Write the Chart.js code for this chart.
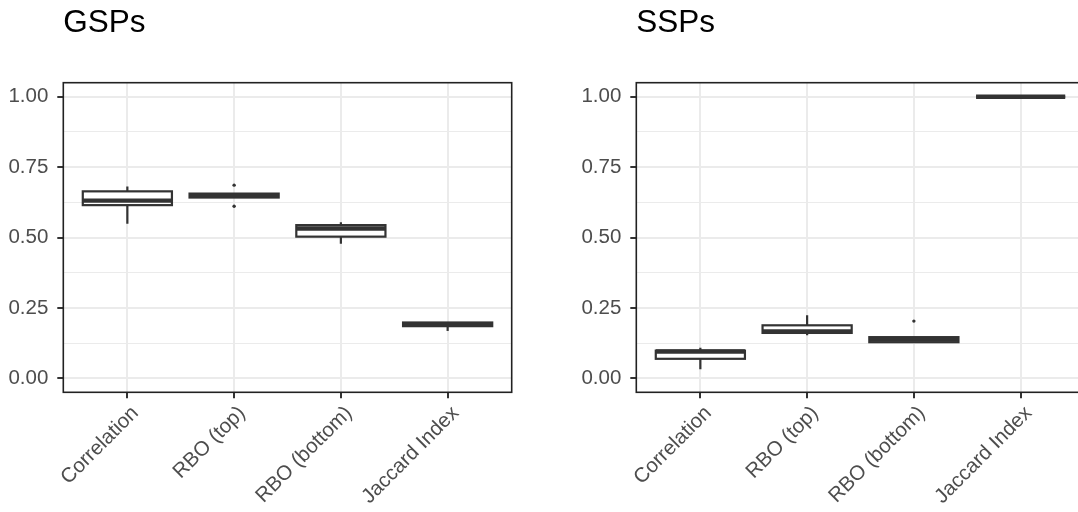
<!DOCTYPE html>
<html>
<head>
<meta charset="utf-8">
<title>GSPs / SSPs</title>
<script src="https://cdn.jsdelivr.net/npm/chart.js@4"></script>
<style>
  html, body { margin: 0; padding: 0; background: #fff; overflow: hidden; }
  #wrap { position: relative; width: 1078px; height: 512px; overflow: hidden; }
  canvas { position: absolute; top: 0; }
  #gsp { left: 0; }
  #ssp { left: 573px; }
</style>
</head>
<body>
<div id="wrap">
  <canvas id="gsp" width="539" height="512"></canvas>
  <canvas id="ssp" width="539" height="512"></canvas>
</div>
<script>
// categories and tick labels
var categories = ['Correlation', 'RBO (top)', 'RBO (bottom)', 'Jaccard Index'];
var yTicks = [0, 0.25, 0.5, 0.75, 1];
var yMinorTicks = [0.125, 0.375, 0.625, 0.875];

// GSPs: box plot stats per category
var gspLower   = [0.549, 0.640, 0.478, 0.168];
var gspQ1      = [0.615, 0.642, 0.503, 0.185];
var gspMedian  = [0.631, 0.649, 0.532, 0.192];
var gspQ3      = [0.664, 0.656, 0.544, 0.198];
var gspUpper   = [0.681, 0.658, 0.554, 0.198];
var gspOutliers = [[], [0.686, 0.611], [], []];

// SSPs
var sspLower   = [0.032, 0.153, 0.128, 1];
var sspQ1      = [0.069, 0.161, 0.128, 1];
var sspMedian  = [0.095, 0.166, 0.137, 1];
var sspQ3      = [0.098, 0.188, 0.146, 1];
var sspUpper   = [0.108, 0.224, 0.146, 1];
var sspOutliers = [[], [], [0.203], []];

var FONT = '"Liberation Sans", Arial, Helvetica, sans-serif';
var INK = '#333333';
var BOX_WIDTH = 0.835;   // in category units

function isMajor(v) {
  return yTicks.some(function (t) { return Math.abs(t - v) < 1e-9; });
}

// draws the boxes, whiskers, medians and the panel frame
function boxPlugin(stats) {
  return {
    id: 'boxplot',
    beforeDatasetsDraw: function (chart) {
      var ctx = chart.ctx, x = chart.scales.x, y = chart.scales.y;
      var half = (x.getPixelForValue(BOX_WIDTH) - x.getPixelForValue(0)) / 2;
      ctx.save();
      ctx.strokeStyle = INK;
      ctx.lineCap = 'butt';
      for (var i = 0; i < categories.length; i++) {
        var cx = x.getPixelForValue(i);
        var yl = y.getPixelForValue(stats.lower[i]);
        var y1 = y.getPixelForValue(stats.q1[i]);
        var ym = y.getPixelForValue(stats.median[i]);
        var y3 = y.getPixelForValue(stats.q3[i]);
        var yu = y.getPixelForValue(stats.upper[i]);

        // whiskers
        ctx.lineWidth = 2.2;
        ctx.beginPath();
        ctx.moveTo(cx, y3); ctx.lineTo(cx, yu);
        ctx.moveTo(cx, y1); ctx.lineTo(cx, yl);
        ctx.stroke();

        // box
        ctx.fillStyle = '#ffffff';
        ctx.fillRect(cx - half, y3, half * 2, y1 - y3);
        ctx.strokeRect(cx - half, y3, half * 2, y1 - y3);

        // median
        ctx.lineWidth = 4.4;
        ctx.beginPath();
        ctx.moveTo(cx - half, ym); ctx.lineTo(cx + half, ym);
        ctx.stroke();
      }
      ctx.restore();
    },
    afterDraw: function (chart) {
      var a = chart.chartArea, ctx = chart.ctx;
      ctx.save();
      ctx.strokeStyle = '#222222';
      ctx.lineWidth = 1.6;
      ctx.strokeRect(a.left, a.top, a.right - a.left, a.bottom - a.top);
      ctx.restore();
    }
  };
}

function makeChart(id, title, stats) {
  var points = [];
  stats.outliers.forEach(function (list, i) {
    list.forEach(function (v) { points.push({ x: i, y: v }); });
  });

  return new Chart(document.getElementById(id), {
    type: 'scatter',
    data: {
      datasets: [{
        data: points,
        pointRadius: 1.7,
        pointBackgroundColor: INK,
        pointBorderWidth: 0
      }]
    },
    options: {
      responsive: false,
      animation: false,
      events: [],
      layout: { padding: { left: 0, right: 27.3, top: 0, bottom: 0 } },
      plugins: {
        legend: { display: false },
        tooltip: { enabled: false },
        title: {
          display: true,
          text: title,
          align: 'start',
          fullSize: false,
          color: '#000000',
          font: { family: FONT, size: 31.5, weight: 'normal', lineHeight: 1 },
          padding: { top: 7.6, bottom: 43.6 }
        }
      },
      scales: {
        x: {
          type: 'linear',
          min: -0.6,
          max: 3.6,
          offset: false,
          afterBuildTicks: function (axis) {
            axis.ticks = categories.map(function (c, i) { return { value: i }; });
          },
          afterFit: function (axis) { axis.height = 119.7; },
          border: { display: false },
          grid: {
            color: '#ebebeb',
            lineWidth: 2,
            tickColor: INK,
            tickWidth: 2,
            tickLength: 6
          },
          ticks: {
            autoSkip: false,
            minRotation: 45,
            maxRotation: 45,
            padding: 3,
            labelOffset: 8,
            color: '#4d4d4d',
            font: { family: FONT, size: 20.5 },
            callback: function (v) { return categories[v]; }
          }
        },
        y: {
          min: -0.05,
          max: 1.05,
          afterBuildTicks: function (axis) {
            axis.ticks = yTicks.concat(yMinorTicks).sort().map(function (v) { return { value: v }; });
          },
          afterFit: function (axis) { axis.width = 63.3; },
          border: { display: false },
          grid: {
            color: '#ebebeb',
            lineWidth: function (c) { return isMajor(c.tick.value) ? 2 : 1; },
            tickColor: function (c) { return isMajor(c.tick.value) ? INK : 'rgba(0,0,0,0)'; },
            tickWidth: 2,
            tickLength: 6
          },
          ticks: {
            autoSkip: false,
            padding: 9,
            color: '#4d4d4d',
            font: { family: FONT, size: 20.5 },
            callback: function (v) { return isMajor(v) ? v.toFixed(2) : ''; }
          }
        }
      }
    },
    plugins: [boxPlugin(stats)]
  });
}

makeChart('gsp', 'GSPs', {
  lower: gspLower, q1: gspQ1, median: gspMedian, q3: gspQ3, upper: gspUpper, outliers: gspOutliers
});
makeChart('ssp', 'SSPs', {
  lower: sspLower, q1: sspQ1, median: sspMedian, q3: sspQ3, upper: sspUpper, outliers: sspOutliers
});
</script>
</body>
</html>
